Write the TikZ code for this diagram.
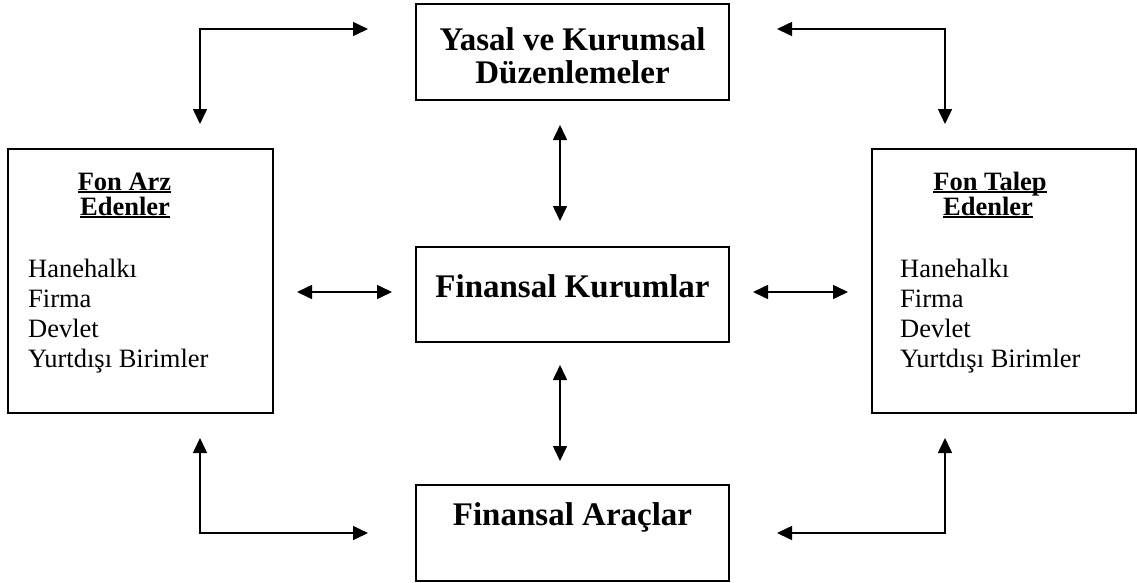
\documentclass[tikz,border=0pt]{standalone}
\usepackage{fontspec}
\setmainfont{Liberation Serif}
\usetikzlibrary{arrows.meta}
\newcommand\myul[1]{\setbox0\hbox{#1}\rlap{\rule[-2.6pt]{\wd0}{1.7pt}}\box0}
\begin{document}
\begin{tikzpicture}[x=1pt,y=-1pt,
  box/.style={draw,line width=1.6pt,inner sep=0pt,minimum width=#1},
  big/.style={font=\fontsize{33}{35}\selectfont\bfseries,inner sep=0pt},
  head/.style={font=\fontsize{26.5}{28}\selectfont\bfseries,inner sep=0pt,anchor=base},
  item/.style={font=\fontsize{26.5}{28}\selectfont,inner sep=0pt,anchor=base west},
  arr/.style={line width=1.6pt,{Triangle[length=15pt,width=14pt]}-{Triangle[length=15pt,width=14pt]}}]
\useasboundingbox (0,0) rectangle (1137,582);
% boxes
\node[box=313pt,minimum height=96pt] (yasal) at (572.5,52) {};
\node[box=313pt,minimum height=95pt] (kurum) at (572.5,294.5) {};
\node[box=313pt,minimum height=96pt] (arac) at (572.5,533) {};
\node[box=265pt,minimum height=264pt] (arz) at (140.5,281) {};
\node[box=264pt,minimum height=264pt] (talep) at (1004,281) {};
% texts
\node[big,anchor=base] (yasal1) at (572.5,50) {Yasal ve Kurumsal};
\node[big,anchor=base] (yasal2) at (572.5,83) {Düzenlemeler};
\node[big,anchor=base] (kurumt) at (572.5,297) {Finansal Kurumlar};
\node[big,anchor=base] (aract) at (572.5,525) {Finansal Araçlar};
\node[head] (arzh1) at (124.5,190) {\myul{Fon Arz}};
\node[head] (arzh2) at (125,215) {\myul{Edenler}};
\node[head] (talh1) at (990,190) {\myul{Fon Talep}};
\node[head] (talh2) at (988,215) {\myul{Edenler}};
\foreach \t [count=\i] in {Hanehalkı,Firma,Devlet,Yurtdışı Birimler}{
  \pgfmathsetmacro\yy{277+30.3*(\i-1)}
  \node[item] (arzi\i) at (28,\yy) {\t};
  \node[item] (tali\i) at (900,\yy) {\t};
}
% connector end points
\coordinate (tlA) at (368,29);  \coordinate (tlB) at (200,124);
\coordinate (trA) at (777,29);  \coordinate (trB) at (945,124);
\coordinate (blA) at (200,438); \coordinate (blB) at (368,533);
\coordinate (brA) at (945,438); \coordinate (brB) at (777,533);
\coordinate (vtA) at (560,125); \coordinate (vtB) at (560,221);
\coordinate (vbA) at (560,365); \coordinate (vbB) at (560,461);
\coordinate (hlA) at (297,292); \coordinate (hlB) at (392,292);
\coordinate (hrA) at (753,292); \coordinate (hrB) at (848,292);
% connectors
\draw[arr] (tlA) -| (tlB);
\draw[arr] (trA) -| (trB);
\draw[arr] (blA) |- (blB);
\draw[arr] (brA) |- (brB);
\draw[arr] (vtA) -- (vtB);
\draw[arr] (vbA) -- (vbB);
\draw[arr] (hlA) -- (hlB);
\draw[arr] (hrA) -- (hrB);
\end{tikzpicture}
\end{document}
